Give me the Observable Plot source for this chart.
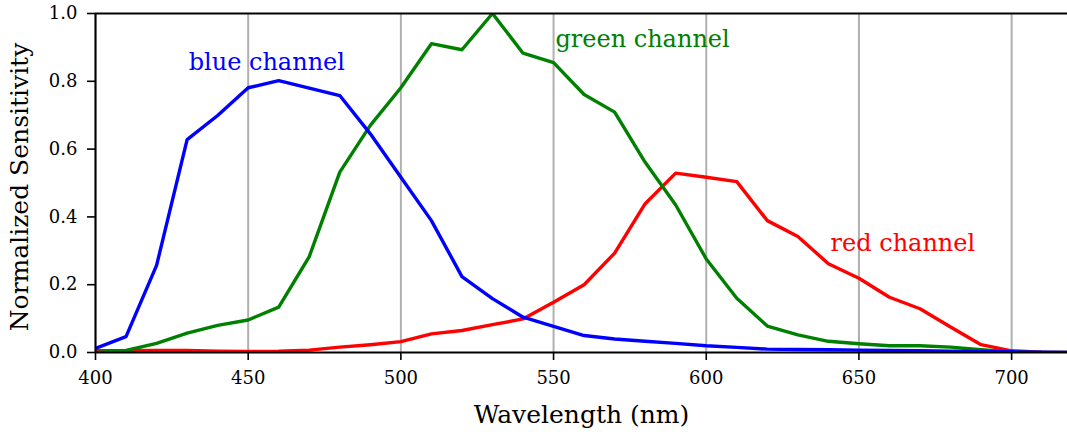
<!DOCTYPE html>
<html>
<head>
<meta charset="utf-8">
<script src="https://cdn.jsdelivr.net/npm/d3@7"></script>
<script src="https://cdn.jsdelivr.net/npm/@observablehq/plot@0.6"></script>
<style>
  html, body { margin: 0; padding: 0; background: white; }
  #chart svg { display: block; }
  #chart svg, #chart svg text { font-family: "DejaVu Serif", serif !important; }
</style>
</head>
<body>
<div id="chart"></div>
<script>
// ---- data ----
const wavelengths = [400,410,420,430,440,450,460,470,480,490,500,510,520,530,540,550,560,570,580,590,600,610,620,630,640,650,660,670,680,690,700,710,720];
const redValues   = [0.005,0.005,0.006,0.006,0.004,0.003,0.004,0.007,0.016,0.023,0.032,0.055,0.065,0.082,0.099,0.148,0.200,0.293,0.439,0.529,0.517,0.504,0.389,0.342,0.262,0.219,0.163,0.129,0.075,0.023,0.005,0.001,0.000];
const greenValues = [0.000,0.006,0.027,0.057,0.080,0.096,0.134,0.283,0.532,0.670,0.781,0.911,0.893,1.000,0.883,0.855,0.761,0.709,0.561,0.435,0.276,0.160,0.078,0.052,0.033,0.026,0.020,0.020,0.016,0.008,0.002,0.000,0.000];
const blueValues  = [0.012,0.047,0.257,0.628,0.699,0.781,0.802,0.780,0.758,0.645,0.517,0.389,0.224,0.159,0.104,0.077,0.050,0.040,0.033,0.027,0.020,0.015,0.010,0.009,0.008,0.007,0.006,0.005,0.004,0.003,0.002,0.001,0.000];
const channelNames = ["red", "green", "blue"];
const channelColors = ["#ff0000", "#008000", "#0000ff"];
const xTicks = [400,450,500,550,600,650,700];
const yTicks = [0,0.2,0.4,0.6,0.8,1.0];
const annotationLabels = ["blue channel", "green channel", "red channel"];
const annotationX = [430.5, 550.6, 640.7];
const annotationY = [0.832, 0.900, 0.299];
const annotationChannel = ["blue", "green", "red"];
const xLabel = "Wavelength (nm)";
const yLabel = "Normalized Sensitivity";

// ---- build tidy rows ----
const seriesValues = [redValues, greenValues, blueValues];
const rows = [];
channelNames.forEach((name, i) => {
  wavelengths.forEach((w, j) => rows.push({channel: name, wavelength: w, value: seriesValues[i][j]}));
});
const annotations = annotationLabels.map((t, i) => ({text: t, x: annotationX[i], y: annotationY[i], channel: annotationChannel[i]}));

const chart = Plot.plot({
  width: 1067,
  height: 432,
  marginLeft: 95,
  marginRight: 0,
  marginTop: 13,
  marginBottom: 80,
  style: {fontSize: "22px", color: "black", background: "white"},
  x: {domain: [400, 718.3]},
  y: {domain: [0, 1]},
  color: {domain: channelNames, range: channelColors},
  marks: [
    Plot.gridX(xTicks, {stroke: "#b0b0b0", strokeOpacity: 1, strokeWidth: 2}),
    Plot.line(rows, {x: "wavelength", y: "value", z: "channel", stroke: "channel", strokeWidth: 3.4, clip: true}),
    Plot.ruleY([0, 1], {stroke: "black", strokeWidth: 2}),
    Plot.ruleX([400], {stroke: "black", strokeWidth: 2}),
    Plot.axisX(xTicks, {tickSize: 8, tickPadding: 11, strokeWidth: 1.6, fontSize: 18, label: null, tickFormat: d => String(d)}),
    Plot.axisY(yTicks, {tickSize: 8, tickPadding: 10, strokeWidth: 1.6, fontSize: 18, label: null, tickFormat: d => d.toFixed(1)}),
    Plot.text(annotations, {x: "x", y: "y", text: "text", fill: "channel", textAnchor: "start", lineAnchor: "bottom", fontSize: 24}),
    Plot.text([xLabel], {frameAnchor: "bottom", dy: 70, textAnchor: "middle", lineAnchor: "bottom", fontSize: 25, fill: "black"}),
    Plot.text([yLabel], {frameAnchor: "left", dx: -68, dy: 4, rotate: -90, textAnchor: "middle", lineAnchor: "bottom", fontSize: 25, fill: "black"})
  ]
});
document.getElementById("chart").appendChild(chart);
</script>
</body>
</html>
